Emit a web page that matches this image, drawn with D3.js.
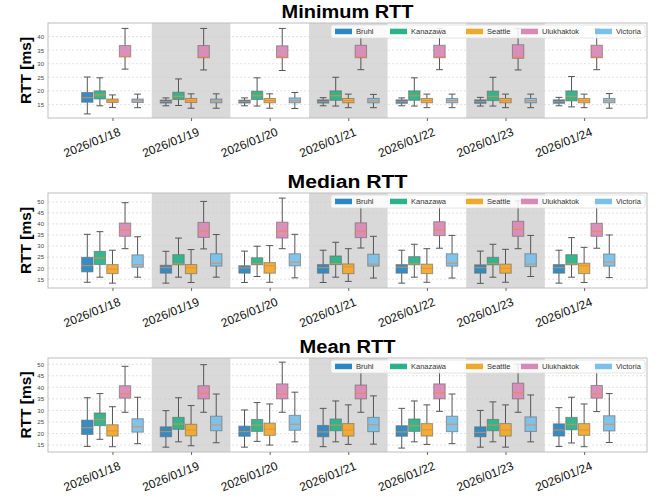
<!DOCTYPE html>
<html>
<head>
<meta charset="utf-8">
<style>
  body { margin: 0; background: #fff; }
  svg { display: block; font-family: "Liberation Sans", Arial, sans-serif; }
</style>
</head>
<body>
<div id="container"></div>
<script src="https://cdn.jsdelivr.net/npm/d3@7"></script>
<script>

// categories
const days = ["2026/01/18", "2026/01/19", "2026/01/20", "2026/01/21", "2026/01/22", "2026/01/23", "2026/01/24"];
const sites = ["Bruhl", "Kanazawa", "Seattle", "Ulukhaktok", "Victoria"];
const siteColors = ["#2b87c3", "#2bb28a", "#eeaa2c", "#d88ab6", "#79c0ea"];

// each entry: [whisker low, q1, median, q3, whisker high] per day
const minBruhl = [[11.5, 15.8, 17.5, 19.4, 25.1], [14.5, 15.5, 16.0, 16.6, 17.4], [14.5, 15.5, 16.0, 16.6, 17.4], [14.5, 15.5, 16.0, 16.7, 17.5], [14.5, 15.4, 16.0, 16.7, 17.4], [14.4, 15.4, 16.0, 16.7, 17.6], [14.5, 15.4, 16.0, 16.7, 17.6]];
const minKanazawa = [[14.5, 17.0, 18.5, 20.0, 24.8], [14.6, 16.8, 18.0, 19.5, 24.4], [14.4, 16.8, 18.2, 19.9, 24.8], [14.4, 16.5, 18.2, 20.0, 25.0], [14.4, 16.5, 18.2, 20.0, 24.8], [14.4, 16.4, 18.0, 19.9, 25.0], [14.1, 16.3, 18.0, 20.0, 25.3]];
const minSeattle = [[13.9, 15.7, 16.3, 17.0, 18.5], [13.6, 15.7, 16.4, 17.2, 18.9], [13.6, 15.6, 16.4, 17.2, 18.9], [13.8, 15.6, 16.4, 17.2, 18.8], [13.8, 15.6, 16.4, 17.2, 18.8], [13.8, 15.6, 16.4, 17.2, 18.8], [13.8, 15.6, 16.4, 17.2, 18.8]];
const minUlukhaktok = [[28.0, 32.5, 32.7, 36.7, 43.0], [27.7, 32.2, 32.5, 36.7, 43.0], [27.5, 32.2, 32.5, 36.6, 43.0], [27.8, 32.2, 32.5, 36.8, 43.0], [27.8, 32.2, 32.5, 36.8, 43.0], [27.7, 32.0, 32.4, 37.0, 43.0], [27.8, 32.2, 32.5, 36.8, 43.0]];
const minVictoria = [[13.8, 15.7, 16.3, 17.0, 18.8], [13.6, 15.6, 16.3, 17.0, 18.9], [13.5, 15.6, 16.4, 17.4, 19.4], [13.8, 15.6, 16.4, 17.2, 18.7], [13.8, 15.6, 16.4, 17.2, 18.8], [13.8, 15.6, 16.4, 17.2, 18.8], [13.6, 15.6, 16.4, 17.2, 19.0]];

const medBruhl = [[13.6, 18.3, 21.1, 24.9, 35.3], [13.2, 17.7, 20.2, 21.3, 27.6], [13.5, 17.7, 20.1, 21.1, 27.7], [13.5, 17.7, 20.2, 21.6, 28.1], [13.2, 17.7, 20.4, 21.6, 28.1], [13.1, 17.7, 20.2, 21.5, 27.7], [13.2, 17.7, 20.2, 21.6, 28.1]];
const medKanazawa = [[15.9, 21.6, 24.6, 27.6, 36.5], [15.9, 21.5, 21.9, 26.1, 33.6], [16.2, 21.5, 22.0, 24.7, 29.9], [15.9, 21.6, 22.0, 25.5, 31.7], [15.9, 21.5, 21.9, 25.2, 30.8], [15.9, 21.5, 22.0, 24.9, 30.8], [15.9, 21.5, 21.9, 26.1, 33.8]];
const medSeattle = [[13.2, 17.5, 19.5, 21.6, 28.1], [13.5, 17.5, 20.1, 21.6, 28.4], [13.6, 17.7, 21.1, 22.5, 30.2], [14.0, 17.5, 20.6, 21.9, 28.8], [13.6, 17.5, 19.9, 21.8, 28.8], [13.6, 17.7, 19.9, 21.8, 28.5], [13.5, 17.5, 21.1, 22.2, 29.4]];
const medUlukhaktok = [[28.8, 34.4, 37.3, 40.4, 49.6], [28.7, 33.9, 36.8, 40.7, 50.2], [28.8, 33.6, 36.8, 40.8, 51.7], [29.1, 33.8, 36.7, 40.5, 50.5], [29.0, 34.7, 37.3, 41.0, 50.5], [28.8, 34.4, 37.5, 41.2, 50.5], [29.0, 34.4, 36.7, 40.3, 50.0]];
const medVictoria = [[15.9, 20.4, 21.6, 26.0, 34.2], [15.9, 20.9, 22.2, 26.5, 35.2], [15.6, 21.0, 22.7, 26.5, 35.3], [15.5, 20.9, 21.8, 26.3, 34.4], [15.5, 20.9, 22.2, 26.5, 34.8], [16.2, 20.7, 21.8, 26.5, 34.8], [15.7, 20.9, 22.7, 26.4, 35.0]];

const meanBruhl = [[14.4, 19.6, 22.5, 25.8, 35.5], [14.1, 18.6, 20.8, 22.9, 29.9], [14.1, 18.8, 20.8, 23.2, 30.2], [14.3, 18.6, 20.7, 23.5, 30.9], [13.7, 18.8, 20.7, 23.4, 30.9], [14.1, 18.6, 20.5, 22.9, 30.0], [14.4, 18.9, 21.5, 24.2, 31.2]];
const meanKanazawa = [[17.5, 23.4, 26.0, 28.9, 37.3], [16.4, 21.8, 24.1, 27.0, 35.5], [16.6, 20.9, 23.7, 26.1, 33.4], [16.4, 21.2, 23.7, 26.3, 34.1], [16.4, 20.9, 23.4, 26.3, 34.1], [16.4, 21.2, 23.7, 26.1, 33.7], [15.9, 21.6, 24.0, 27.0, 35.7]];
const meanSeattle = [[14.3, 18.9, 21.2, 23.8, 31.6], [14.7, 19.0, 21.5, 24.0, 32.1], [15.0, 19.2, 21.9, 24.5, 32.8], [15.3, 18.9, 21.5, 24.3, 32.4], [15.3, 18.9, 21.6, 24.3, 32.4], [14.1, 18.9, 21.5, 24.3, 32.4], [14.3, 19.2, 21.5, 24.3, 32.8]];
const meanUlukhaktok = [[29.2, 35.3, 37.1, 40.7, 49.1], [29.2, 35.0, 37.4, 40.7, 49.8], [29.2, 35.0, 37.1, 41.5, 50.9], [29.2, 35.0, 37.4, 41.0, 50.0], [29.6, 35.0, 37.6, 41.5, 50.0], [29.2, 35.0, 37.6, 41.8, 50.0], [29.5, 35.3, 37.1, 40.8, 49.5]];
const meanVictoria = [[15.6, 20.6, 22.9, 26.4, 35.7], [16.0, 21.2, 23.7, 27.5, 37.1], [16.4, 21.4, 24.0, 27.9, 37.9], [15.4, 20.8, 23.8, 27.0, 36.3], [15.6, 20.8, 24.0, 27.5, 37.1], [16.4, 20.9, 23.7, 27.2, 36.7], [16.1, 21.1, 24.0, 27.7, 37.3]];

const minTicks = [15, 20, 25, 30, 35, 40];
const medTicks = [15, 20, 25, 30, 35, 40, 45, 50];
const meanTicks = [15, 20, 25, 30, 35, 40, 45, 50];

const panels = [
  { title: "Minimum RTT", series: [minBruhl, minKanazawa, minSeattle, minUlukhaktok, minVictoria], ticks: minTicks, domain: [10, 45], top: 23, bottom: 118 },
  { title: "Median RTT", series: [medBruhl, medKanazawa, medSeattle, medUlukhaktok, medVictoria], ticks: medTicks, domain: [11, 54], top: 193, bottom: 288 },
  { title: "Mean RTT", series: [meanBruhl, meanKanazawa, meanSeattle, meanUlukhaktok, meanVictoria], ticks: meanTicks, domain: [12, 52.7], top: 358, bottom: 452 }
];

const width = 661, height = 497;
const left = 48, right = 647;

const svg = d3.select("#container").append("svg")
  .attr("width", width)
  .attr("height", height);

const x = d3.scaleLinear().domain([-0.82, 6.8]).range([left, right]);
const boxW = x(0.145) - x(0);
const capW = boxW * 0.6;
const offset = k => (k - 2) * 0.16;

panels.forEach(p => {
  const y = d3.scaleLinear().domain(p.domain).range([p.bottom, p.top]);
  const g = svg.append("g");

  // title
  g.append("text")
    .attr("x", (left + right) / 2)
    .attr("y", p.top - 5)
    .attr("text-anchor", "middle")
    .attr("font-size", 17.5)
    .attr("font-weight", "bold")
    .attr("textLength", p.title.length * 12)
    .attr("lengthAdjust", "spacingAndGlyphs")
    .text(p.title);

  // alternating day shading
  g.selectAll("rect.band")
    .data(days.map((d, i) => i).filter(i => i % 2 === 1))
    .join("rect")
    .attr("class", "band")
    .attr("x", i => x(i - 0.5))
    .attr("width", i => x(i + 0.5) - x(i - 0.5))
    .attr("y", p.top)
    .attr("height", p.bottom - p.top)
    .attr("fill", "#d9d9d9");

  // grid
  g.selectAll("line.grid")
    .data(p.ticks)
    .join("line")
    .attr("x1", left).attr("x2", right)
    .attr("y1", d => y(d)).attr("y2", d => y(d))
    .attr("stroke", "#cfcfcf")
    .attr("stroke-width", 0.6)
    .attr("stroke-dasharray", "2,2");

  // boxes
  p.series.forEach((s, k) => {
    const sg = g.append("g");
    s.forEach((st, i) => {
      const cx = x(i + offset(k));
      const [lo, q1, med, q3, hi] = st;
      sg.append("line")
        .attr("x1", cx).attr("x2", cx)
        .attr("y1", y(lo)).attr("y2", y(q1))
        .attr("stroke", "#555").attr("stroke-width", 1);
      sg.append("line")
        .attr("x1", cx).attr("x2", cx)
        .attr("y1", y(q3)).attr("y2", y(hi))
        .attr("stroke", "#555").attr("stroke-width", 1);
      sg.append("line")
        .attr("x1", cx - capW / 2).attr("x2", cx + capW / 2)
        .attr("y1", y(lo)).attr("y2", y(lo))
        .attr("stroke", "#555").attr("stroke-width", 1);
      sg.append("line")
        .attr("x1", cx - capW / 2).attr("x2", cx + capW / 2)
        .attr("y1", y(hi)).attr("y2", y(hi))
        .attr("stroke", "#555").attr("stroke-width", 1);
      sg.append("rect")
        .attr("x", cx - boxW / 2)
        .attr("width", boxW)
        .attr("y", y(q3))
        .attr("height", y(q1) - y(q3))
        .attr("fill", siteColors[k])
        .attr("fill-opacity", 0.95)
        .attr("stroke", "#666")
        .attr("stroke-opacity", 0.6)
        .attr("stroke-width", 1);
      sg.append("line")
        .attr("x1", cx - boxW / 2).attr("x2", cx + boxW / 2)
        .attr("y1", y(med)).attr("y2", y(med))
        .attr("stroke", "#f0883a").attr("stroke-width", 0.9);
    });
  });

  // frame
  g.append("rect")
    .attr("x", left).attr("y", p.top)
    .attr("width", right - left).attr("height", p.bottom - p.top)
    .attr("fill", "none")
    .attr("stroke", "#bdbdbd")
    .attr("stroke-width", 1);

  // y axis
  const ya = g.append("g")
    .attr("transform", `translate(${left},0)`)
    .call(d3.axisLeft(y).tickValues(p.ticks).tickSize(0).tickPadding(4));
  ya.select(".domain").remove();
  ya.selectAll("text").attr("font-size", 6).attr("fill", "#444").attr("font-family", "Liberation Sans, Arial, sans-serif");

  g.append("text")
    .attr("transform", `translate(31,${(p.top + p.bottom) / 2}) rotate(-90)`)
    .attr("text-anchor", "middle")
    .attr("font-size", 15.5)
    .attr("font-weight", "bold")
    .text("RTT [ms]");

  // x axis
  const xa = g.append("g")
    .attr("transform", `translate(0,${p.bottom})`)
    .call(d3.axisBottom(x).tickValues(d3.range(days.length)).tickSize(3).tickFormat(""));
  xa.select(".domain").remove();
  xa.selectAll("line").attr("stroke", "#666");

  g.selectAll("text.xl")
    .data(days)
    .join("text")
    .attr("class", "xl")
    .attr("transform", (d, i) => `translate(${x(i) + 9},${p.bottom + 17}) rotate(-22)`)
    .attr("text-anchor", "end")
    .attr("font-size", 12)
    .attr("fill", "#111")
    .text(d => d);

  // legend
  const ly = p.top + 8.5;
  const lx = [335, 390, 466, 521, 595];
  const lg = g.append("g");
  lg.append("rect")
    .attr("x", 331).attr("y", ly - 6.5)
    .attr("width", 314).attr("height", 13)
    .attr("fill", "#fff").attr("fill-opacity", 0.85)
    .attr("stroke", "#ddd").attr("stroke-width", 0.8)
    .attr("rx", 2);
  sites.forEach((s, k) => {
    lg.append("rect")
      .attr("x", lx[k]).attr("y", ly - 2.8)
      .attr("width", 17).attr("height", 5.5)
      .attr("fill", siteColors[k]);
    lg.append("text")
      .attr("x", lx[k] + 21).attr("y", ly + 2.6)
      .attr("font-size", 7.5)
      .attr("fill", "#333")
      .text(s);
  });
});

</script>
</body>
</html>
